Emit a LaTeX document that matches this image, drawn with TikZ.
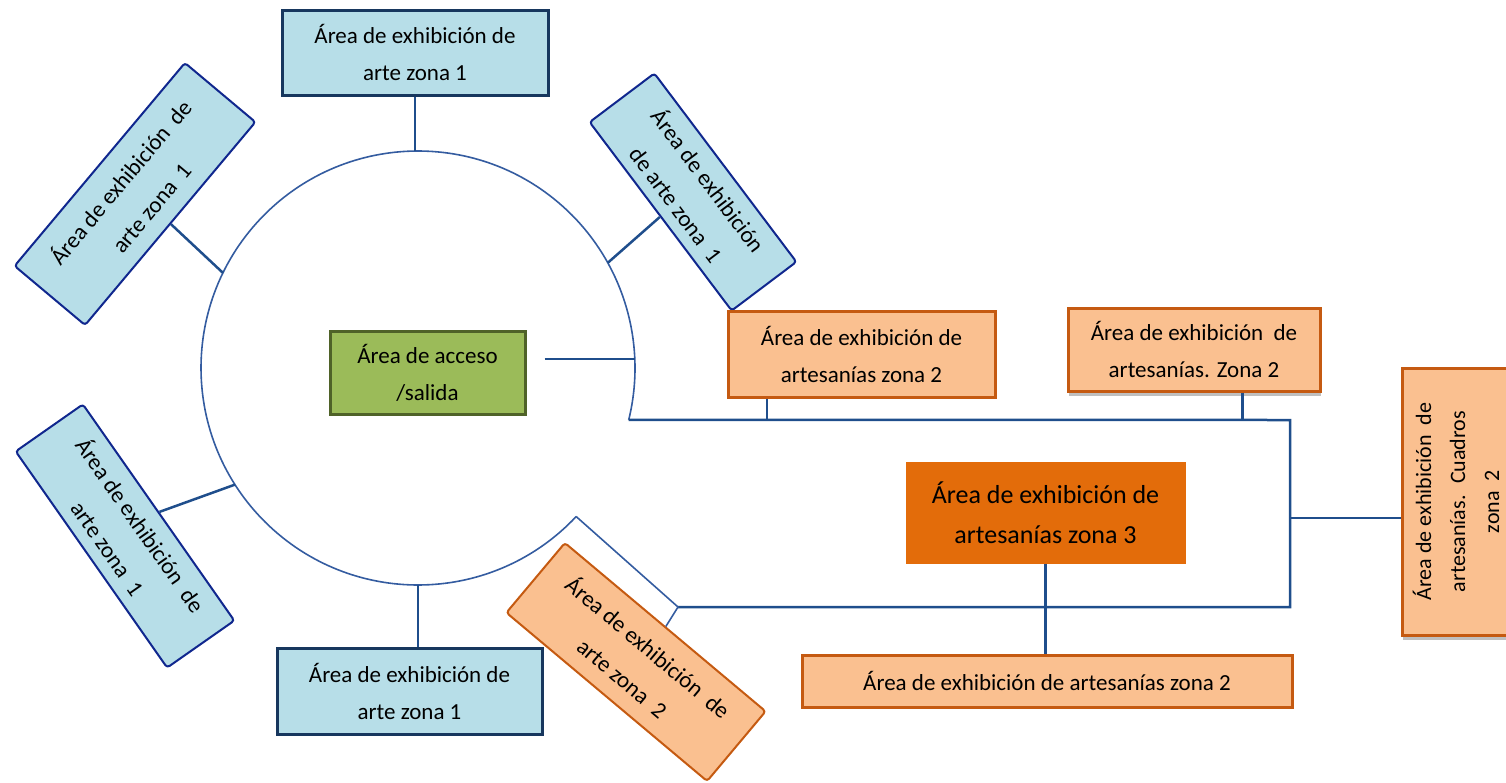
\documentclass[tikz,border=0pt]{standalone}
\usepackage{fontspec}
\setmainfont{Carlito}
\usetikzlibrary{positioning}
\usetikzlibrary{calc}
\usetikzlibrary{shadows}
\definecolor{art fill}{RGB}{183,222,232}
\definecolor{art line}{RGB}{23,55,94}
\definecolor{craft fill}{RGB}{250,192,144}
\definecolor{craft line}{RGB}{197,90,17}
\definecolor{craft dark}{RGB}{227,108,10}
\definecolor{access fill}{RGB}{155,187,89}
\definecolor{access line}{RGB}{79,98,40}
\definecolor{link blue}{RGB}{31,78,140}
\definecolor{ring blue}{RGB}{52,92,160}
\tikzset{
    % Text as it is set in every box
    box text/.style={font=\fontsize{23}{37}\selectfont, align=center,
        inner sep=0pt},
%
    % Upright boxes for the art areas
    art box/.style={box text, draw=art line, line width=3pt, fill=art fill,
        minimum width=266pt, minimum height=85pt},
%
    % Tilted boxes for the art areas round the ring
    art tilt/.style={box text, font=\fontsize{23}{40}\selectfont,
        draw=art line!70!blue, line width=2pt, fill=art fill,
        rounded corners=3pt},
%
    % Boxes for the craft areas
    craft box/.style={box text, draw=craft line, line width=3pt,
        fill=craft fill},
    craft tilt/.style={craft box, font=\fontsize{23}{40}\selectfont,
        line width=2pt, rounded corners=3pt},
%
    % A soft grey shadow under some boxes
    soft shadow/.style={drop shadow={shadow xshift=1pt, shadow yshift=-5pt,
        fill=black, opacity=.25}},
%
    % Connectors and the ring itself
    link/.style={draw=link blue, line width=2.5pt},
    ring line/.style={draw=ring blue, line width=1.6pt}}

\begin{document}
\begin{tikzpicture}[x=1pt, y=-1pt]
\useasboundingbox (0,0) rectangle (1506,782);

% The open ring and the points on it
\coordinate (ring) at (418,368);
\foreach \ang/\name in {270/top, 206/top left, 331/top right, 357.6/acceso,
    147.5/low left, 90/bottom, 13.8/end a, 43.2/end b}
    \coordinate (c \name) at ($(ring)+(\ang:217)$);
\draw[ring line] (c end b) arc[start angle=43.2, end angle=373.8, radius=217];

% Access in the middle
\node[box text, draw=access line, line width=3pt, fill=access fill,
    minimum width=195pt, minimum height=83pt]
    (acceso) at (427.5,372.5) {Área de acceso\\/salida};
\draw[link] ($(acceso.east |- c acceso)+(18,0)$) -- (c acceso);

% Art areas round the ring
\node[art box] (art top) at (415,52.5) {Área de exhibición de\\arte zona 1};
\node[art box, minimum width=265pt, minimum height=86pt]
    (art bottom) at (409.5,691) {Área de exhibición de\\arte zona 1};
\node[art tilt, rotate=50, minimum width=265pt, minimum height=92pt]
    (art nw) at (135,194) {Área de exhibición \ de\\arte zona \ 1};
\node[art tilt, rotate=-53, minimum width=236pt, minimum height=81pt]
    (art ne) at (693,192) {Área de exhibición\\de arte zona \ 1};
\node[art tilt, rotate=-55, minimum width=264pt, minimum height=82pt]
    (art sw) at (125,536) {Área de exhibición \ de\\arte zona \ 1};

\draw[link] (art top.south) -- (art top.south |- c top);
\draw[link] (c bottom) -- (c bottom |- art bottom.north);
\draw[link] (art nw.south) -- (c top left);
\draw[link] (art ne.south) -- (c top right);
\draw[link] (art sw.north) -- (c low left);

% Craft areas along the frame
\node[craft box, minimum width=267pt, minimum height=86pt]
    (craft a) at (861.5,354) {Área de exhibición de\\artesanías zona 2};
\node[craft box, soft shadow, minimum width=252pt, minimum height=83pt]
    (craft b) at (1194,349.5) {Área de exhibición \ de\\artesanías. Zona 2};
\node[craft box, draw=craft dark, fill=craft dark,
    font=\fontsize{26}{40}\selectfont, minimum width=277pt, minimum height=99pt]
    (zona 3) at (1045.5,512.5) {Área de exhibición de\\artesanías zona 3};
\node[craft box, minimum width=490pt, minimum height=52pt]
    (craft wide) at (1047,681) {Área de exhibición de artesanías zona 2};
\node[craft box, soft shadow, rotate=90, minimum width=267pt,
    minimum height=108pt, font=\fontsize{22}{34}\selectfont]
    (cuadros) at (1456,501.5)
    {Área de exhibición \ de\\artesanías. \ Cuadros\\zona \ 2};
\node[craft tilt, rotate=-40, minimum width=262pt, minimum height=91pt]
    (craft tilt) at (636,662) {Área de exhibición \ de\\arte zona \ 2};

% The frame that joins them
\coordinate (bus ne) at (1290,420);
\coordinate (bus e) at (1290,518);
\coordinate (bus se) at (1290,607);
\coordinate (bus sw) at (678,607);
\draw[link] (c end a) -- (bus ne) -- (bus se) -- (bus sw);
\draw[ring line] (c end b) -- (bus sw) -- (craft tilt.north);

\coordinate (craft a foot) at ($(craft a.south west)!0.15!(craft a.south east)$);
\coordinate (craft b foot) at ($(craft b.south west)!0.69!(craft b.south east)$);
\draw[link] (craft a foot) -- (craft a foot |- bus ne);
\draw[link] (craft b foot) -- (craft b foot |- bus ne);
\draw[link] (zona 3.south) -- (zona 3.south |- craft wide.north);
\draw[link] (bus e) -- (bus e -| cuadros.north);

\end{tikzpicture}
\end{document}
